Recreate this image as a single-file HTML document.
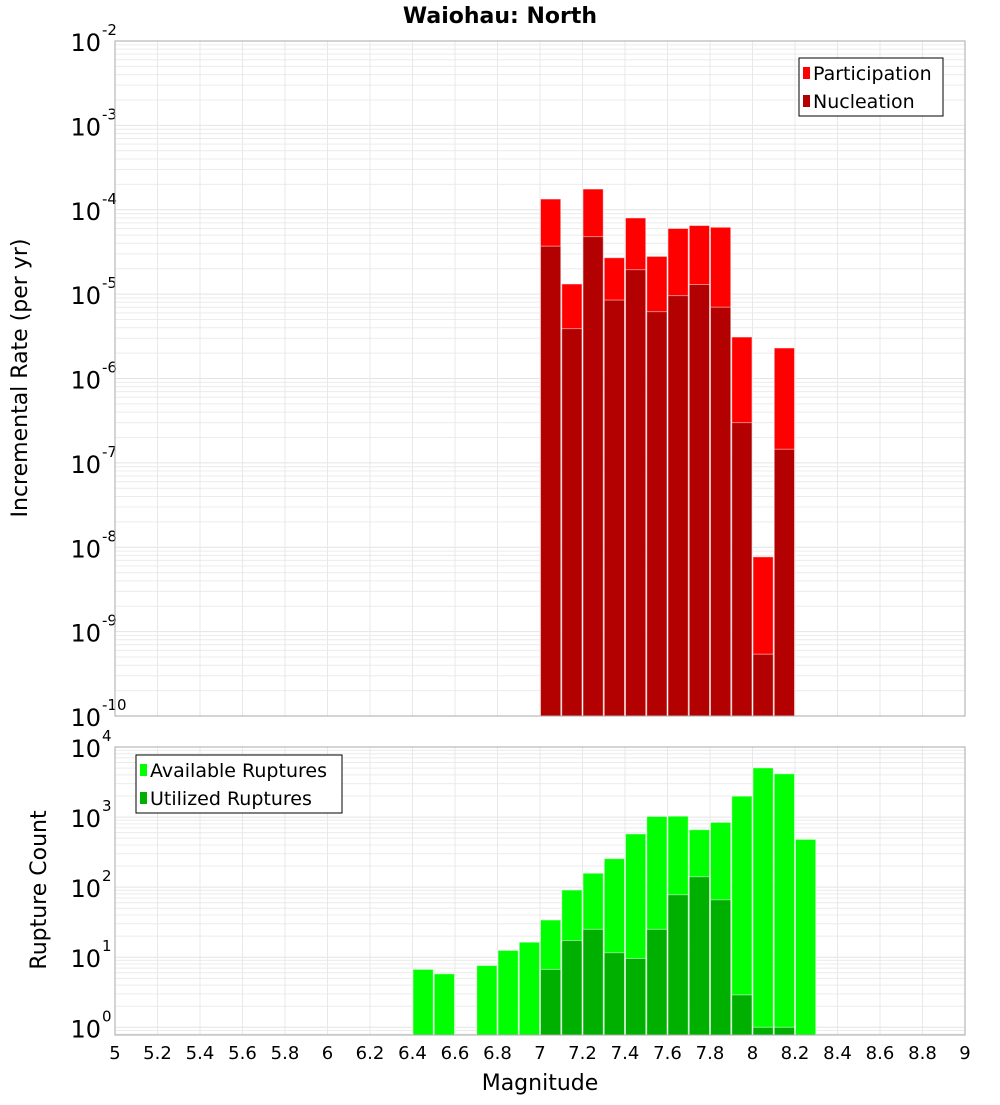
<!DOCTYPE html>
<html><head><meta charset="utf-8"><style>
body{margin:0;background:#fff;font-family:"Liberation Sans","DejaVu Sans",sans-serif}
svg text{font-family:"DejaVu Sans","Liberation Sans",sans-serif}
</style></head><body>
<svg id="c" width="1000" height="1100" xmlns="http://www.w3.org/2000/svg">
<text x="500" y="23" text-anchor="middle" font-size="22" font-weight="bold">Waiohau: North</text>
<text transform="translate(27,378) rotate(-90)" text-anchor="middle" font-size="22">Incremental Rate (per yr)</text>
<text transform="translate(46,890) rotate(-90)" text-anchor="middle" font-size="22">Rupture Count</text>
<text x="540" y="1090" text-anchor="middle" font-size="22">Magnitude</text>
<g id="top"></g>
<g id="bot"></g>
</svg>
<script>
const mags=[7.0,7.1,7.2,7.3,7.4,7.5,7.6,7.7,7.8,7.9,8.0,8.1];
const participation=[1.34e-4,1.32e-5,1.76e-4,2.7e-5,8.0e-5,2.8e-5,6.0e-5,6.5e-5,6.2e-5,3.1e-6,7.7e-9,2.3e-6];
const nucleation=[3.7e-5,3.9e-6,4.8e-5,8.5e-6,1.95e-5,6.2e-6,9.6e-6,1.3e-5,7.0e-6,3.0e-7,5.4e-10,1.45e-7];
const countMags=[6.4,6.5,6.7,6.8,6.9,7.0,7.1,7.2,7.3,7.4,7.5,7.6,7.7,7.8,7.9,8.0,8.1,8.2];
const available=[6.7,5.8,7.6,12.5,16.4,34,91,158,255,575,1020,1030,660,840,1990,5040,4150,480];
const utilized=[0,0,0,0,0,6.7,17.3,25,11.6,9.6,25,78,141,66,2.9,1.0,1.0,0];
const xTicks=[5,5.2,5.4,5.6,5.8,6,6.2,6.4,6.6,6.8,7,7.2,7.4,7.6,7.8,8,8.2,8.4,8.6,8.8,9];
const topExps=[-2,-3,-4,-5,-6,-7,-8,-9,-10];
const botExps=[4,3,2,1,0];

const NS='http://www.w3.org/2000/svg';
const L=115,R=965;
const X=m=>L+(m-5)/4*(R-L);
function mk(p,t,a){const e=document.createElementNS(NS,t);for(const k in a)e.setAttribute(k,a[k]);p.appendChild(e);return e;}
function plot(g,top,bot,lmax,lmin,exps){
  const Y=v=>top+(lmax-Math.log10(v))/(lmax-lmin)*(bot-top);
  for(let d=Math.floor(lmin);d<lmax;d++)for(let k=1;k<10;k++){const l=d+Math.log10(k);if(l<lmin||l>lmax)continue;const y=top+(lmax-l)/(lmax-lmin)*(bot-top);
    const ln=mk(g,'line',{x1:L,x2:R,y1:y,y2:y,stroke:k==1?'#e4e4e4':'#ececec','stroke-width':1});
    
    }
  xTicks.forEach(t=>{const ln=mk(g,'line',{x1:X(t),x2:X(t),y1:top,y2:bot,stroke:'#e8e8e8'});
    
    });
  exps.forEach(e=>{const y=Y(Math.pow(10,e));const t=mk(g,'text',{x:L-14,y:y+10,'text-anchor':'end','font-size':24});
    
    
    t.textContent='10';const s=mk(g,'text',{x:L-13,y:y-6,'font-size':15});s.textContent=String(e);
    
    });
  return Y;
}
function bars(g,ms,vals,Y,bot,color,name){ms.forEach((m,i)=>{if(!(vals[i]>0))return;const y=Math.max(Y(vals[i]),0);
  const r=mk(g,'rect',{x:X(m)+0.5,y:y,width:X(m+0.1)-X(m)-1,height:bot-y,fill:color,stroke:'#fff','stroke-opacity':0.5,'stroke-width':1});
  
  });}
function frame(g,top,bot){const f=mk(g,'rect',{x:L,y:top,width:R-L,height:bot-top,fill:'none',stroke:'#aaa'});
  
  }
function legend(g,x,y,w,items){const b=mk(g,'rect',{x:x,y:y,width:w,height:58,fill:'#fff',stroke:'#000'});
  
  
  items.forEach((it,i)=>{const yy=y+15+i*28;const s=mk(g,'rect',{x:x+4,y:yy-6,width:7,height:12,fill:it[1]});
    
    
    const t=mk(g,'text',{x:x+14,y:yy+7,'font-size':19});t.textContent=it[0];
    
    });}

const gt=document.getElementById('top');
const Yt=plot(gt,41,716,-2,-10,topExps);
bars(gt,mags,participation,Yt,716,'#ff0000','participation');
bars(gt,mags,nucleation,Yt,716,'#b30000','nucleation');
frame(gt,41,716);
legend(gt,799,58,144,[['Participation','#ff0000'],['Nucleation','#b30000']]);

const gb=document.getElementById('bot');
const Yb=plot(gb,747,1035,4,-0.11,botExps);
bars(gb,countMags,available,Yb,1035,'#00ff00','available');
bars(gb,countMags,utilized,Yb,1035,'#00b000','utilized');
frame(gb,747,1035);
legend(gb,136,755,206,[['Available Ruptures','#00ff00'],['Utilized Ruptures','#00b000']]);
xTicks.forEach(t=>{const tx=mk(gb,'text',{x:X(t),y:1059,'text-anchor':'middle','font-size':18});
  tx.textContent=String(t);
  
  });
</script>
</body></html>
